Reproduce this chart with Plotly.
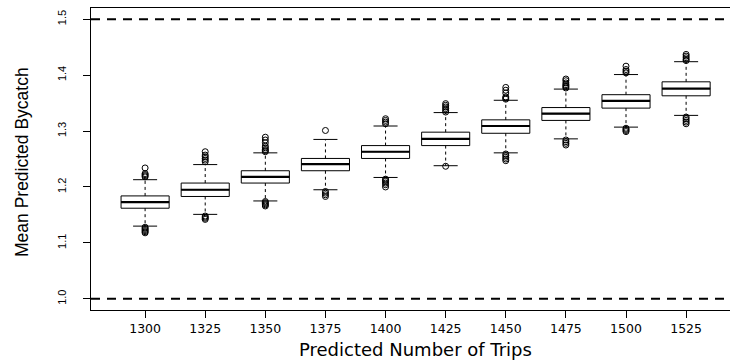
import plotly.graph_objects as go

# Predicted number of trips (box categories)
trips = ["1300", "1325", "1350", "1375", "1400", "1425", "1450", "1475", "1500", "1525"]

# Box statistics of mean predicted bycatch per scenario
q1 = [1.162, 1.183, 1.207, 1.229, 1.251, 1.274, 1.296, 1.319, 1.341, 1.363]
median = [1.173, 1.195, 1.218, 1.241, 1.263, 1.286, 1.309, 1.331, 1.354, 1.376]
q3 = [1.184, 1.207, 1.229, 1.251, 1.274, 1.298, 1.320, 1.342, 1.365, 1.388]
whisker_low = [1.130, 1.151, 1.175, 1.195, 1.217, 1.238, 1.261, 1.286, 1.307, 1.328]
whisker_high = [1.213, 1.240, 1.261, 1.285, 1.309, 1.333, 1.355, 1.375, 1.401, 1.424]

# Outlying simulation means beyond the whiskers
outliers = [
    [1.218, 1.220, 1.222, 1.224, 1.234, 1.128, 1.126, 1.124, 1.122, 1.120, 1.118],
    [1.245, 1.248, 1.251, 1.254, 1.257, 1.263, 1.148, 1.146, 1.144, 1.142],
    [1.263, 1.265, 1.267, 1.270, 1.273, 1.279, 1.284, 1.289, 1.174, 1.172, 1.170, 1.168, 1.166],
    [1.301, 1.192, 1.189, 1.186, 1.183],
    [1.313, 1.316, 1.319, 1.322, 1.214, 1.212, 1.210, 1.207, 1.204, 1.200],
    [1.334, 1.337, 1.340, 1.343, 1.346, 1.349, 1.237],
    [1.357, 1.359, 1.361, 1.368, 1.373, 1.378, 1.259, 1.256, 1.253, 1.250, 1.247],
    [1.377, 1.379, 1.381, 1.383, 1.386, 1.390, 1.393, 1.284, 1.281, 1.278, 1.275],
    [1.404, 1.407, 1.410, 1.416, 1.305, 1.303, 1.301, 1.299],
    [1.426, 1.428, 1.431, 1.434, 1.437, 1.325, 1.322, 1.319, 1.316, 1.313],
]

# Reference levels drawn as dashed horizontal lines
reference_levels = [1.0, 1.5]

y_ticks = [1.0, 1.1, 1.2, 1.3, 1.4, 1.5]

BOX_W = 0.8      # box width in category units
STAPLE_W = 0.4   # whisker cap width
WIDE = "DejaVu Sans, Verdana, sans-serif"
SANS = "Liberation Sans, Arial, Helvetica, sans-serif"

pos = list(range(1, len(trips) + 1))
fig = go.Figure()

# Boxes (Q1-Q3); whiskers and medians are layered on top
fig.add_trace(go.Box(
    x=pos, q1=q1, median=median, q3=q3,
    lowerfence=q1, upperfence=q3,
    width=BOX_W, fillcolor="white",
    line=dict(color="black", width=1),
    whiskerwidth=0, boxpoints=False, hoverinfo="skip", showlegend=False,
))


def segments(x0s, x1s, y0s, y1s):
    xs, ys = [], []
    for a, b, c, d in zip(x0s, x1s, y0s, y1s):
        xs += [a, b, None]
        ys += [c, d, None]
    return xs, ys


# Dotted whiskers from box edges to the caps
wx, wy = segments(pos + pos, pos + pos, q3 + q1, whisker_high + whisker_low)
fig.add_trace(go.Scatter(x=wx, y=wy, mode="lines",
                         line=dict(color="black", width=1, dash="3px,3px"),
                         hoverinfo="skip", showlegend=False))

# Whisker caps
cx0 = [p - STAPLE_W / 2 for p in pos]
cx1 = [p + STAPLE_W / 2 for p in pos]
sx, sy = segments(cx0 + cx0, cx1 + cx1, whisker_high + whisker_low, whisker_high + whisker_low)
fig.add_trace(go.Scatter(x=sx, y=sy, mode="lines",
                         line=dict(color="black", width=1),
                         hoverinfo="skip", showlegend=False))

# Heavier median bars
mx0 = [p - BOX_W / 2 for p in pos]
mx1 = [p + BOX_W / 2 for p in pos]
mxs, mys = segments(mx0, mx1, median, median)
fig.add_trace(go.Scatter(x=mxs, y=mys, mode="lines",
                         line=dict(color="black", width=2.2),
                         hoverinfo="skip", showlegend=False))

# Outlier points
ox, oy = [], []
for p, vals in zip(pos, outliers):
    ox += [p] * len(vals)
    oy += vals
fig.add_trace(go.Scatter(x=ox, y=oy, mode="markers",
                         marker=dict(symbol="circle-open", size=6,
                                     color="black", line=dict(width=1)),
                         hoverinfo="skip", showlegend=False))

# Dashed reference lines across the plotting region
for lvl in reference_levels:
    fig.add_shape(type="line", xref="paper", x0=0, x1=1, yref="y", y0=lvl, y1=lvl,
                  line=dict(color="black", width=2, dash="9px,7px"), layer="above")

# Axis titles, centred on the plotting region
fig.add_annotation(text="Predicted Number of Trips", xref="paper", yref="paper",
                   x=0.5086, y=-0.132, xanchor="center", yanchor="middle",
                   showarrow=False, font=dict(family=WIDE, size=18, color="black"))
fig.add_annotation(text="Mean Predicted Bycatch", xref="paper", yref="paper",
                   x=-0.108, y=0.49, xanchor="center", yanchor="middle", textangle=-90,
                   showarrow=False, font=dict(family=SANS, size=17.5, color="black"))

fig.update_layout(
    width=730, height=362,
    margin=dict(l=91, r=0, t=8, b=52),
    paper_bgcolor="white", plot_bgcolor="white",
    font=dict(family=WIDE, color="black"),
    showlegend=False,
    xaxis=dict(
        range=[0.1, 10.73], tickmode="array", tickvals=pos, ticktext=trips,
        showgrid=False, zeroline=False,
        showline=True, mirror=True, linecolor="black", linewidth=1,
        ticks="outside", ticklen=7, tickcolor="black", tickwidth=1,
        tickfont=dict(family=WIDE, size=12.5),
    ),
    yaxis=dict(
        range=[0.98, 1.52], tickmode="array", tickvals=y_ticks,
        ticktext=[f"{v:.1f}" for v in y_ticks],
        showgrid=False, zeroline=False,
        showline=True, mirror=False, linecolor="black", linewidth=1,
        ticks="outside", ticklen=7, tickcolor="black", tickwidth=1,
        tickangle=-90, tickfont=dict(family=SANS, size=11), ticklabelstandoff=13,
    ),
)

fig.write_html("out.html")
